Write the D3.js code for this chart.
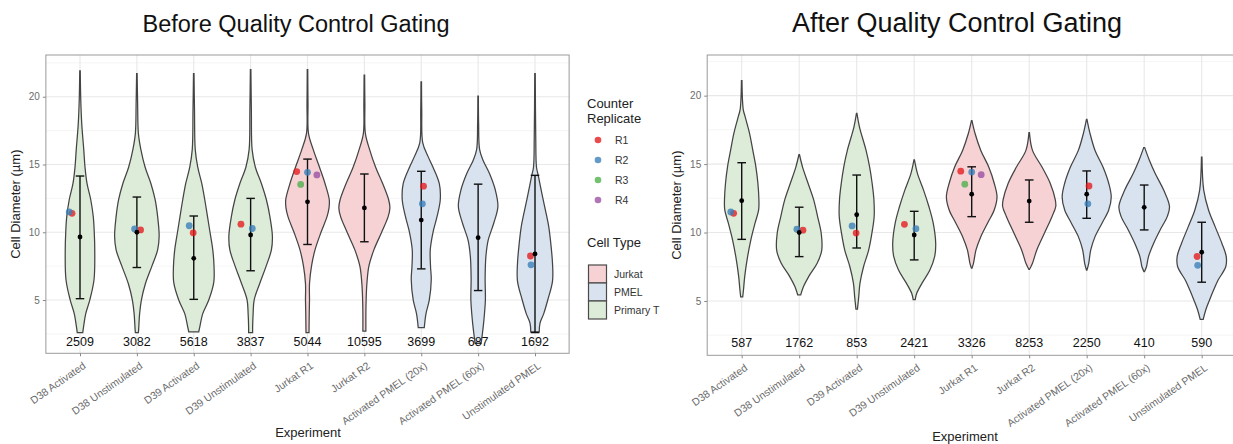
<!DOCTYPE html>
<html>
<head>
<meta charset="utf-8">
<script src="https://cdn.jsdelivr.net/npm/d3@7"></script>
<style>
  body { margin: 0; background: #fff; }
  svg { display: block; font-family: "Liberation Sans", Arial, Helvetica, sans-serif; }
</style>
</head>
<body>
<div id="chart"></div>
<script>
// ---- data ----
const experiments = ["D38 Activated", "D38 Unstimulated", "D39 Activated", "D39 Unstimulated",
  "Jurkat R1", "Jurkat R2", "Activated PMEL (20x)", "Activated PMEL (60x)", "Unstimulated PMEL"];
const cellTypes = ["Primary T", "Primary T", "Primary T", "Primary T",
  "Jurkat", "Jurkat", "PMEL", "PMEL", "PMEL"];
const cellTypeLevels = ["Jurkat", "PMEL", "Primary T"];
const replicateLevels = ["R1", "R2", "R3", "R4"];

const countsBefore = [2509, 3082, 5618, 3837, 5044, 10595, 3699, 687, 1692];
const countsAfter = [587, 1762, 853, 2421, 3326, 8253, 2250, 410, 590];

const meanBefore = [9.65, 10.0, 8.08, 9.8, 12.25, 11.8, 10.9, 9.6, 8.4];
const lowBefore = [5.1, 7.4, 5.05, 7.16, 9.1, 9.3, 7.3, 5.7, 2.6];
const highBefore = [14.15, 12.6, 11.2, 12.5, 15.4, 14.3, 14.5, 13.55, 14.2];

const meanAfter = [12.33, 10.0, 11.3, 9.82, 12.8, 12.3, 12.8, 11.84, 8.56];
const lowAfter = [9.5, 8.24, 8.87, 8.0, 11.16, 10.75, 11.04, 10.19, 6.37];
const highAfter = [15.1, 11.85, 14.2, 11.55, 14.8, 13.84, 14.5, 13.47, 10.75];

// violin outlines: [diameter, relative density]
const violinsBefore = [
  [[2.6,.11],[3.0,.14],[4,.23],[5,.39],[6.5,.56],[8.7,.59],[10,.57],[11.15,.53],[12.4,.43],[13.6,.28],[14.8,.2],[16.1,.15],[18,.07],[19.8,.03],[21.9,.01]],
  [[2.6,.06],[2.8,.07],[4,.11],[5,.18],[6.2,.34],[7.5,.6],[8.7,.83],[9.7,.89],[11.15,.83],[12.4,.73],[13.6,.56],[14.8,.33],[16.1,.16],[17.3,.06],[19.5,.03],[21.7,.01]],
  [[2.66,.2],[3.0,.24],[4,.36],[5,.6],[6.3,.8],[7.5,.81],[8.7,.76],[10,.65],[11.15,.55],[12.4,.44],[13.6,.32],[14.8,.16],[16.1,.06],[19,.03],[21.7,.01]],
  [[2.6,.08],[3.0,.08],[4,.1],[5,.14],[6.2,.36],[7.5,.62],[8.7,.83],[9.7,.87],[11.15,.77],[12.4,.63],[13.6,.43],[14.8,.19],[16.1,.06],[19,.03],[22,.01]],
  [[2.6,.06],[4,.07],[5,.08],[6.2,.08],[7.5,.16],[8.7,.3],[10,.54],[11.15,.78],[11.8,.86],[12.4,.87],[13.6,.7],[14.8,.48],[16.1,.23],[17.3,.04],[19.5,.02],[22,.01]],
  [[2.7,.06],[4,.06],[5,.07],[6.2,.1],[7.5,.18],[8.7,.38],[10,.69],[11.15,.95],[11.8,1.02],[12.4,.97],[13.6,.73],[14.8,.45],[16.1,.21],[17.3,.04],[19.5,.02],[21.6,.01]],
  [[2.96,.12],[4,.19],[5,.32],[6.5,.4],[7.5,.37],[8.7,.36],[10,.47],[11.15,.63],[12.4,.76],[13.6,.72],[14.8,.47],[15.6,.27],[16.6,.06],[19,.02],[21.1,.01]],
  [[1.8,.12],[2.5,.17],[3.5,.23],[5,.29],[6.6,.28],[8.2,.31],[9.4,.4],[10.7,.63],[11.9,.79],[13.1,.69],[14.35,.45],[15.3,.2],[16.1,.06],[18,.02],[20.05,.01]],
  [[2.66,.17],[3.3,.2],[4,.35],[5,.51],[6.4,.7],[7.7,.7],[9.2,.63],[10.4,.55],[11.6,.42],[12.9,.27],[14.2,.13],[14.8,.06],[17,.03],[21.7,.01]]
];
const violinsAfter = [
  [[5.3,.04],[5.8,.07],[6.8,.12],[8.2,.23],[9.45,.36],[10.7,.53],[11.65,.67],[12.4,.68],[13.6,.64],[14.8,.56],[16,.44],[17.25,.31],[18.5,.13],[19,.06],[21.1,.01]],
  [[5.44,.06],[6.05,.17],[6.8,.38],[7.75,.71],[8.7,.89],[9.95,.87],[11.15,.73],[12.4,.57],[13.6,.35],[14.8,.13],[15.7,.01]],
  [[4.4,.03],[5.3,.08],[6.3,.13],[7.5,.27],[8.7,.47],[9.95,.6],[11.15,.69],[12.4,.68],[13.6,.61],[14.8,.51],[16,.37],[17.7,.11],[18.7,.01]],
  [[5.1,.04],[5.56,.1],[6.3,.31],[7.26,.62],[8.25,.81],[9.2,.85],[10.7,.75],[11.9,.58],[13.1,.37],[14.3,.13],[15.3,.01]],
  [[7.39,.01],[7.75,.07],[8.73,.17],[9.7,.36],[10.7,.63],[11.65,.89],[12.6,1.0],[13.6,.89],[14.8,.67],[16,.36],[17.25,.13],[18.17,.01]],
  [[7.3,.01],[7.75,.13],[8.73,.3],[9.95,.6],[11.16,.9],[11.9,1.05],[12.4,1.03],[13.6,.83],[14.8,.5],[16,.13],[17.3,.01]],
  [[7.26,.01],[7.75,.08],[8.73,.16],[9.7,.33],[10.7,.61],[11.65,.87],[12.6,.97],[13.6,.87],[14.8,.64],[16,.33],[17.25,.13],[18.27,.01]],
  [[7.14,.01],[7.5,.09],[8.24,.17],[9.2,.37],[10.19,.63],[11.16,.91],[11.9,1.0],[13.1,.77],[14.33,.43],[15.3,.2],[16.2,.02]],
  [[3.66,.06],[4.34,.16],[5.07,.31],[5.8,.47],[6.5,.64],[7.5,.95],[8.24,.97],[9.2,.8],[10.43,.53],[11.65,.27],[13.1,.08],[15.5,.01]]
];

// counter replicate means (same in both panels), jitter in category units
const replicates = [
  { exp: 0, rep: "R1", value: 11.4, jitter: -0.14 },
  { exp: 0, rep: "R2", value: 11.5, jitter: -0.19 },
  { exp: 1, rep: "R1", value: 10.17, jitter: 0.065 },
  { exp: 1, rep: "R2", value: 10.24, jitter: -0.04 },
  { exp: 2, rep: "R1", value: 9.96, jitter: -0.01 },
  { exp: 2, rep: "R2", value: 10.48, jitter: -0.08 },
  { exp: 3, rep: "R1", value: 10.6, jitter: -0.17 },
  { exp: 3, rep: "R2", value: 10.28, jitter: 0.03 },
  { exp: 4, rep: "R1", value: 14.48, jitter: -0.19 },
  { exp: 4, rep: "R2", value: 14.42, jitter: 0.0 },
  { exp: 4, rep: "R3", value: 13.53, jitter: -0.12 },
  { exp: 4, rep: "R4", value: 14.23, jitter: 0.165 },
  { exp: 6, rep: "R1", value: 13.4, jitter: 0.04 },
  { exp: 6, rep: "R2", value: 12.1, jitter: 0.02 },
  { exp: 8, rep: "R1", value: 8.25, jitter: -0.08 },
  { exp: 8, rep: "R2", value: 7.6, jitter: -0.07 }
];

const yTicks = [5, 10, 15, 20];
const yMinorTicks = [2.5, 7.5, 12.5, 17.5, 22.5];

// ---- styles ----
const fillColor = d3.scaleOrdinal().domain(cellTypeLevels).range(["#f6d2d5", "#d8e3ef", "#ddecd8"]);
const repColor = d3.scaleOrdinal().domain(replicateLevels).range(["#e41a1c", "#377eb8", "#4daf4a", "#984ea3"]);

const W = 1233, H = 444;
const svg = d3.select("#chart").append("svg").attr("width", W).attr("height", H);
svg.append("rect").attr("width", W).attr("height", H).attr("fill", "#fff");

function drawPanel(p) {
  const g = svg.append("g");
  const x = d3.scalePoint().domain(experiments).range([p.x0, p.x1]);
  const step = x.step();
  const left = p.x0 - 0.6 * step, right = p.x1 + 0.6 * step;
  const y = d3.scaleLinear().domain(p.yDomain).range([p.bottom, p.top]);
  const w = d3.scaleLinear().domain([0, 1]).range([0, step * 0.44]);

  // grid
  g.selectAll("line.ymin").data(yMinorTicks.filter(v => y(v) > p.top)).join("line")
    .attr("x1", left).attr("x2", right).attr("y1", d => y(d)).attr("y2", d => y(d))
    .attr("stroke", "#f3f3f3").attr("stroke-width", 0.8);
  g.selectAll("line.ymaj").data(yTicks).join("line")
    .attr("x1", left).attr("x2", right).attr("y1", d => y(d)).attr("y2", d => y(d))
    .attr("stroke", "#e8e8e8").attr("stroke-width", 1.1);
  g.selectAll("line.xmaj").data(experiments).join("line")
    .attr("x1", d => x(d)).attr("x2", d => x(d)).attr("y1", p.top).attr("y2", p.bottom)
    .attr("stroke", "#e8e8e8").attr("stroke-width", 1.1);

  // violins
  experiments.forEach((e, i) => {
    const cx = x(e);
    const area = d3.area()
      .curve(d3.curveCatmullRom.alpha(0.5))
      .y(d => y(d[0]))
      .x0(d => cx - w(d[1]))
      .x1(d => cx + w(d[1]));
    g.append("path").datum(p.violins[i])
      .attr("d", area)
      .attr("fill", fillColor(cellTypes[i]))
      .attr("stroke", "#444").attr("stroke-width", 1.25);
  });

  // error bars
  const cap = step * 0.075;
  experiments.forEach((e, i) => {
    const cx = x(e);
    const eg = g.append("g").attr("stroke", "#111").attr("stroke-width", 1.4);
    eg.append("line").attr("x1", cx).attr("x2", cx).attr("y1", y(p.low[i])).attr("y2", y(p.high[i]));
    eg.append("line").attr("x1", cx - cap).attr("x2", cx + cap).attr("y1", y(p.low[i])).attr("y2", y(p.low[i]));
    eg.append("line").attr("x1", cx - cap).attr("x2", cx + cap).attr("y1", y(p.high[i])).attr("y2", y(p.high[i]));
  });

  // replicate points
  g.selectAll("circle.rep").data(replicates).join("circle")
    .attr("cx", d => x(experiments[d.exp]) + d.jitter * step)
    .attr("cy", d => y(d.value))
    .attr("r", 3.4)
    .attr("fill", d => repColor(d.rep)).attr("fill-opacity", 0.78);

  // means
  g.selectAll("circle.mean").data(p.mean).join("circle")
    .attr("cx", (d, i) => x(experiments[i])).attr("cy", d => y(d))
    .attr("r", 2.4).attr("fill", "#000");

  // counts
  g.selectAll("text.count").data(p.counts).join("text")
    .attr("x", (d, i) => x(experiments[i])).attr("y", y(1.95))
    .attr("dy", "0.36em").attr("text-anchor", "middle")
    .attr("font-size", 12.5).attr("fill", "#111")
    .text(d => d);

  // border
  g.append("rect").attr("x", left).attr("y", p.top)
    .attr("width", right - left).attr("height", p.bottom - p.top)
    .attr("fill", "none").attr("stroke", "#9a9a9a").attr("stroke-width", 1);

  // axes
  const ya = g.append("g").attr("transform", `translate(${left},0)`)
    .call(d3.axisLeft(y).tickValues(yTicks).tickSize(3).tickPadding(3));
  ya.select(".domain").remove();
  ya.selectAll("line").attr("stroke", "#888");
  ya.selectAll("text").attr("font-size", 10).attr("fill", "#6b6b6b").attr("font-family", null);

  const xa = g.append("g").attr("transform", `translate(0,${p.bottom})`)
    .call(d3.axisBottom(x).tickSize(3));
  xa.select(".domain").remove();
  xa.selectAll("line").attr("stroke", "#888");
  xa.selectAll("text")
    .attr("x", 0).attr("y", 0).attr("dy", 0)
    .attr("text-anchor", "end")
    .attr("transform", "translate(6,14) rotate(-35)")
    .attr("font-size", 10.5).attr("fill", "#6b6b6b").attr("font-family", null);

  // titles
  g.append("text").attr("x", p.titleX).attr("y", 32).attr("text-anchor", "middle")
    .attr("font-size", p.titleSize).attr("fill", "#111").text(p.title);
  g.append("text").attr("transform", `translate(${left - 26},${(p.top + p.bottom) / 2}) rotate(-90)`)
    .attr("text-anchor", "middle").attr("font-size", 13).attr("fill", "#222")
    .text("Cell Diameter (\u00b5m)");
  g.append("text").attr("x", p.xTitleX).attr("y", p.xTitleY).attr("text-anchor", "middle")
    .attr("font-size", 13).attr("fill", "#222").text("Experiment");
}

drawPanel({
  x0: 80, x1: 535, top: 55, bottom: 353.3, yDomain: [1.07, 23.08],
  violins: violinsBefore, mean: meanBefore, low: lowBefore, high: highBefore, counts: countsBefore,
  title: "Before Quality Control Gating", titleX: 296, titleSize: 23.5,
  xTitleX: 308, xTitleY: 437
});
drawPanel({
  x0: 741.7, x1: 1201.7, top: 55, bottom: 355.3, yDomain: [1.03, 22.97],
  violins: violinsAfter, mean: meanAfter, low: lowAfter, high: highAfter, counts: countsAfter,
  title: "After Quality Control Gating", titleX: 957, titleSize: 27,
  xTitleX: 965, xTitleY: 441
});

// ---- legend ----
const lg = svg.append("g").attr("font-size", 13).attr("fill", "#222");
lg.append("text").attr("x", 587).attr("y", 108).text("Counter");
lg.append("text").attr("x", 587).attr("y", 123).text("Replicate");
const repRow = d3.scalePoint().domain(replicateLevels).range([140, 200]);
replicateLevels.forEach(r => {
  lg.append("circle").attr("cx", 598).attr("cy", repRow(r)).attr("r", 3.3)
    .attr("fill", repColor(r)).attr("fill-opacity", 0.78);
  lg.append("text").attr("x", 615).attr("y", repRow(r)).attr("dy", "0.36em")
    .attr("font-size", 10.5).attr("fill", "#333").text(r);
});
lg.append("text").attr("x", 587).attr("y", 247).text("Cell Type");
const typeRow = d3.scaleBand().domain(cellTypeLevels).range([265, 319]).padding(0);
cellTypeLevels.forEach(t => {
  lg.append("rect").attr("x", 588.5).attr("y", typeRow(t))
    .attr("width", 18).attr("height", typeRow.bandwidth())
    .attr("fill", fillColor(t)).attr("stroke", "#4a4a4a").attr("stroke-width", 1.2);
  lg.append("text").attr("x", 614).attr("y", typeRow(t) + typeRow.bandwidth() / 2).attr("dy", "0.36em")
    .attr("font-size", 10.5).attr("fill", "#333").text(t);
});
</script>
</body>
</html>
